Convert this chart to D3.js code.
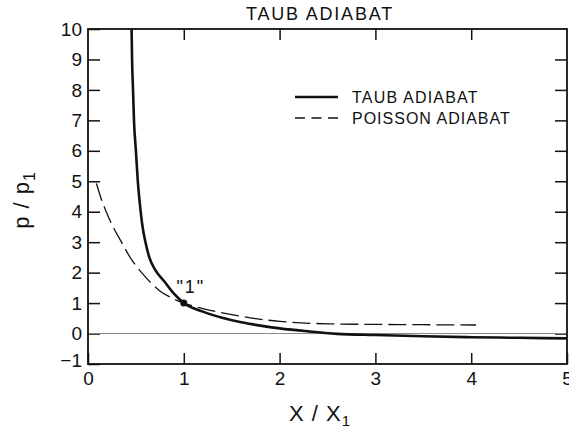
<!DOCTYPE html>
<html>
<head>
<meta charset="utf-8">
<script src="https://cdn.jsdelivr.net/npm/d3@7"></script>
<style>
  body { margin: 0; background: #fff; }
  text { font-family: "Liberation Sans", Arial, sans-serif; fill: #111; }
</style>
</head>
<body>
<div id="chart"></div>
<script>
// values
var taubX = [0.455, 0.46, 0.47, 0.48, 0.50, 0.52, 0.54, 0.57, 0.60, 0.64, 0.70, 0.80, 0.90, 1.0,
             1.2, 1.4, 1.6, 1.8, 2.0, 2.3, 2.6, 3.0, 3.5, 4.0, 4.5, 5.0];
var taubP = [10, 9, 8, 7, 6, 5, 4.3, 3.5, 3.0, 2.5, 2.1, 1.7, 1.3, 1.0,
             0.72, 0.52, 0.37, 0.26, 0.17, 0.07, -0.01, -0.05, -0.09, -0.12, -0.14, -0.16];
var poissonX = [0.088, 0.13, 0.19, 0.27, 0.35, 0.45, 0.56, 0.75, 0.88, 1.0,
                1.1, 1.25, 1.5, 1.75, 2.0, 2.5, 3.0, 3.5, 4.05];
var poissonP = [4.93, 4.5, 4.0, 3.45, 3.0, 2.45, 2.0, 1.4, 1.16, 1.0,
                0.9, 0.78, 0.62, 0.49, 0.4, 0.32, 0.3, 0.29, 0.28];
var xTicks = [0, 1, 2, 3, 4, 5];
var yTicks = [-1, 0, 1, 2, 3, 4, 5, 6, 7, 8, 9, 10];
var point1 = [1, 1];

var W = 569, H = 430;
var margin = {top: 29, right: 2, bottom: 66, left: 88};
var width = W - margin.left - margin.right,
    height = H - margin.top - margin.bottom;

var svg = d3.select("#chart").append("svg")
    .attr("width", W).attr("height", H);
var g = svg.append("g")
    .attr("transform", "translate(" + margin.left + "," + margin.top + ")");

var x = d3.scaleLinear().domain([0, 5]).range([0, width]);
var y = d3.scaleLinear().domain([-1, 10]).range([height, 0]);

// axes, ticks pointing inward
var axLeft = g.append("g")
    .call(d3.axisLeft(y).tickValues(yTicks).tickSize(-12).tickPadding(6).tickFormat(d3.format("d")));
var axBottom = g.append("g")
    .attr("transform", "translate(0," + height + ")")
    .call(d3.axisBottom(x).tickValues(xTicks).tickSize(-11).tickPadding(8).tickFormat(d3.format("d")));
var axTop = g.append("g")
    .call(d3.axisTop(x).tickValues([1, 2, 3, 4]).tickSize(-11).tickFormat(""));
var axRight = g.append("g")
    .attr("transform", "translate(" + width + ",0)")
    .call(d3.axisRight(y).tickValues(yTicks.slice(1, 11)).tickSize(-12).tickFormat(""));

[axLeft, axBottom, axTop, axRight].forEach(function (a) {
  a.select(".domain").remove();
  a.selectAll("line").attr("stroke", "#111").attr("stroke-width", 1.5);
  a.selectAll("text").style("font-size", "19px").attr("fill", "#111");
});
axLeft.selectAll("text").filter(function (d) { return d === -1; }).attr("dy", "0.15em");

// zero line
g.append("line")
    .attr("x1", x(0)).attr("x2", x(5))
    .attr("y1", y(0)).attr("y2", y(0))
    .attr("stroke", "#888").attr("stroke-width", 1);

// frame
g.append("rect")
    .attr("width", width).attr("height", height)
    .attr("fill", "none").attr("stroke", "#111").attr("stroke-width", 1.8);

var line = d3.line()
    .x(function (d) { return x(d[0]); })
    .y(function (d) { return y(d[1]); })
    .curve(d3.curveMonotoneX);

var taub = d3.zip(taubX, taubP);
var poisson = d3.zip(poissonX, poissonP);

g.append("path")
    .datum(poisson)
    .attr("d", line)
    .attr("fill", "none")
    .attr("stroke", "#111")
    .attr("stroke-width", 1.3)
    .attr("stroke-dasharray", "18,6");

g.append("path")
    .datum(taub)
    .attr("d", line)
    .attr("fill", "none")
    .attr("stroke", "#111")
    .attr("stroke-width", 2.6);

// point "1"
g.append("circle")
    .attr("cx", x(point1[0])).attr("cy", y(point1[1]))
    .attr("r", 3.5).attr("fill", "#111");
g.append("text")
    .attr("x", x(point1[0]) + 7).attr("y", y(point1[1]) - 10)
    .attr("text-anchor", "middle")
    .style("font-size", "18px")
    .style("letter-spacing", "2px")
    .text('"1"');

// legend
var lg = svg.append("g");
lg.append("line")
    .attr("x1", 295).attr("x2", 338).attr("y1", 97).attr("y2", 97)
    .attr("stroke", "#111").attr("stroke-width", 2.4);
lg.append("line")
    .attr("x1", 295).attr("x2", 338).attr("y1", 118).attr("y2", 118)
    .attr("stroke", "#111").attr("stroke-width", 1.3)
    .attr("stroke-dasharray", "10,6.5");
lg.append("text")
    .attr("x", 352).attr("y", 103)
    .style("font-size", "16px").style("letter-spacing", "1.2px")
    .text("TAUB ADIABAT");
lg.append("text")
    .attr("x", 352).attr("y", 124)
    .style("font-size", "16px").style("letter-spacing", "1px")
    .text("POISSON ADIABAT");

// title
svg.append("text")
    .attr("x", 320).attr("y", 20)
    .attr("text-anchor", "middle")
    .style("font-size", "18px").style("letter-spacing", "1.8px")
    .text("TAUB ADIABAT");

// axis labels
var xl = svg.append("text")
    .attr("x", 320).attr("y", 421)
    .attr("text-anchor", "middle")
    .style("font-size", "22px").style("letter-spacing", "1px");
xl.append("tspan").text("X / X");
xl.append("tspan").attr("dy", 5).style("font-size", "15px").text("1");

var yl = svg.append("text")
    .attr("transform", "translate(29,200) rotate(-90)")
    .attr("text-anchor", "middle")
    .style("font-size", "22px").style("letter-spacing", "1px");
yl.append("tspan").text("p / p");
yl.append("tspan").attr("dy", 6).style("font-size", "16px").text("1");
</script>
</body>
</html>
